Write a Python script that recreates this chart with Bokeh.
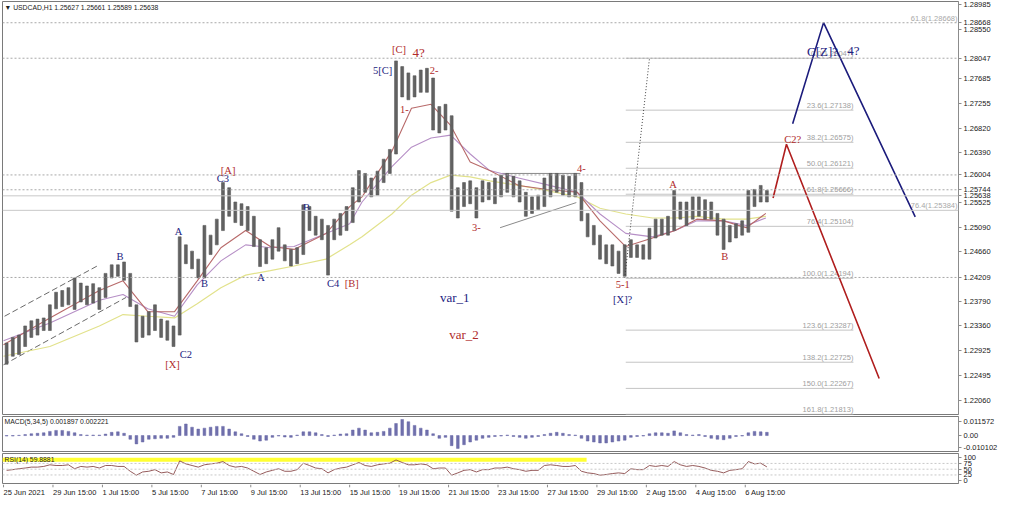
from bokeh.plotting import figure
from bokeh.layouts import column
from bokeh.models import Range1d, FixedTicker, Span, PrintfTickFormatter
from bokeh.core.properties import value
from bokeh.embed import file_html
from bokeh.resources import INLINE

# ---------------- data ----------------
header_text = "\u25bc USDCAD,H1  1.25627 1.25661 1.25589 1.25638"
macd_title = "MACD(5,34,5) 0.001897 0.002221"
rsi_title = "RSI(14) 59.8881"

date_labels = ["25 Jun 2021", "29 Jun 15:00", "1 Jul 15:00", "5 Jul 15:00", "7 Jul 15:00",
               "9 Jul 15:00", "13 Jul 15:00", "15 Jul 15:00", "19 Jul 15:00", "21 Jul 15:00",
               "23 Jul 15:00", "27 Jul 15:00", "29 Jul 15:00", "2 Aug 15:00", "4 Aug 15:00",
               "6 Aug 15:00"]
date_bars = [0, 48, 96, 144, 192, 240, 288, 336, 384, 432, 480, 528, 576, 624, 672, 720]

# price scale: regular ticks plus the marked level values shown on the scale
price_ticks = [1.28985, 1.28668, 1.28550, 1.28047, 1.27685, 1.27255, 1.26820, 1.26390,
               1.26004, 1.25744, 1.25638, 1.25525, 1.25090, 1.24660, 1.24209, 1.23790,
               1.23360, 1.22925, 1.22495, 1.22060]

# 6-hour groups of H1 bars (high / low)
price_high = [
    1.2306, 1.2316, 1.2320, 1.2336, 1.2345, 1.2348, 1.2350, 1.2373, 1.2395, 1.2398,
    1.2403, 1.2420, 1.2411, 1.2406, 1.2410, 1.2403, 1.2428, 1.2443, 1.2443, 1.2448,
    1.2428, 1.2373, 1.2353, 1.2361, 1.2373, 1.2348, 1.2345, 1.2336, 1.2492, 1.2478,
    1.2467, 1.2453, 1.2512, 1.2495, 1.2523, 1.2587, 1.2578, 1.2553, 1.2550, 1.2545,
    1.2528, 1.2487, 1.2473, 1.2487, 1.2508, 1.2478, 1.2470, 1.2473, 1.2548, 1.2545,
    1.2528, 1.2523, 1.2512, 1.2523, 1.2533, 1.2545, 1.2578, 1.2608, 1.2603, 1.2595,
    1.2607, 1.2628, 1.2645, 1.2800, 1.2790, 1.2779, 1.2774, 1.2784, 1.2787, 1.2770,
    1.2720, 1.2724, 1.2704, 1.2578, 1.2587, 1.2590, 1.2578, 1.2590, 1.2587, 1.2595,
    1.2600, 1.2603, 1.2598, 1.2590, 1.2570, 1.2562, 1.2565, 1.2595, 1.2603, 1.2603,
    1.2600, 1.2598, 1.2603, 1.2587, 1.2533, 1.2512, 1.2495, 1.2478, 1.2478, 1.2467,
    1.2478, 1.2487, 1.2478, 1.2478, 1.2507, 1.2523, 1.2523, 1.2528, 1.2573, 1.2553,
    1.2553, 1.2562, 1.2562, 1.2557, 1.2553, 1.2533, 1.2523, 1.2512, 1.2515, 1.2520,
    1.2573, 1.2575, 1.2582, 1.2573]
price_low = [
    1.2269, 1.2283, 1.2286, 1.2300, 1.2316, 1.2320, 1.2328, 1.2328, 1.2366, 1.2370,
    1.2373, 1.2365, 1.2378, 1.2373, 1.2376, 1.2365, 1.2386, 1.2420, 1.2423, 1.2416,
    1.2370, 1.2308, 1.2316, 1.2320, 1.2328, 1.2316, 1.2311, 1.2300, 1.2320, 1.2445,
    1.2436, 1.2420, 1.2420, 1.2461, 1.2478, 1.2503, 1.2528, 1.2517, 1.2512, 1.2503,
    1.2475, 1.2440, 1.2445, 1.2453, 1.2467, 1.2450, 1.2441, 1.2445, 1.2461, 1.2503,
    1.2495, 1.2487, 1.2425, 1.2487, 1.2495, 1.2503, 1.2517, 1.2553, 1.2570, 1.2562,
    1.2565, 1.2587, 1.2603, 1.2637, 1.2737, 1.2732, 1.2737, 1.2745, 1.2745, 1.2679,
    1.2674, 1.2679, 1.2537, 1.2525, 1.2545, 1.2550, 1.2525, 1.2553, 1.2557, 1.2550,
    1.2562, 1.2570, 1.2562, 1.2553, 1.2528, 1.2533, 1.2540, 1.2545, 1.2562, 1.2570,
    1.2565, 1.2562, 1.2562, 1.2520, 1.2492, 1.2478, 1.2453, 1.2445, 1.2441, 1.2428,
    1.2423, 1.2456, 1.2456, 1.2453, 1.2453, 1.2490, 1.2495, 1.2495, 1.2503, 1.2523,
    1.2512, 1.2523, 1.2528, 1.2523, 1.2523, 1.2495, 1.2470, 1.2483, 1.2490, 1.2495,
    1.2500, 1.2545, 1.2553, 1.2553]

macd_hist = [
    -0.0004, -0.0004, 0.0002, 0.0008, 0.0015, 0.0019, 0.0023, 0.0035, 0.0043, 0.0043,
    0.0035, 0.0023, 0.0008, 0.0004, 0.0004, 0.0004, 0.0012, 0.0027, 0.0031, 0.0019,
    -0.0031, -0.0070, -0.0054, -0.0031, -0.0027, -0.0023, -0.0023, -0.0015, 0.0077, 0.0097,
    0.0070, 0.0054, 0.0062, 0.0070, 0.0077, 0.0077, 0.0054, 0.0031, 0.0015, -0.0008,
    -0.0031, -0.0046, -0.0039, -0.0015, -0.0004, -0.0012, -0.0015, 0.0004, 0.0031, 0.0031,
    0.0023, 0.0008, -0.0008, 0.0004, 0.0012, 0.0015, 0.0046, 0.0062, 0.0046, 0.0023,
    0.0027, 0.0035, 0.0062, 0.0101, 0.0135, 0.0116, 0.0085, 0.0062, 0.0046, 0.0015,
    -0.0023, -0.0015, -0.0085, -0.0108, -0.0077, -0.0054, -0.0039, -0.0023, -0.0015, -0.0008,
    -0.0004, 0.0004, -0.0008, -0.0015, -0.0023, -0.0015, -0.0008, 0.0008, 0.0019, 0.0027,
    0.0019, 0.0008, 0.0004, -0.0023, -0.0046, -0.0054, -0.0062, -0.0062, -0.0054, -0.0046,
    -0.0039, -0.0015, -0.0008, -0.0004, 0.0015, 0.0023, 0.0023, 0.0019, 0.0039, 0.0023,
    0.0008, 0.0004, 0.0008, -0.0008, -0.0023, -0.0031, -0.0035, -0.0023, -0.0008, -0.0004,
    0.0023, 0.0035, 0.0031, 0.0027]
macd_ticks = [0.011572, 0.0, -0.010102]

rsi_vals = [
    45, 48, 52, 55, 59, 59, 62, 69, 66, 66,
    69, 52, 62, 59, 62, 55, 66, 66, 62, 62,
    41, 24, 38, 41, 48, 34, 38, 27, 86, 73,
    66, 59, 69, 73, 76, 83, 66, 59, 62, 55,
    41, 27, 38, 45, 52, 41, 41, 48, 76, 66,
    55, 52, 34, 48, 55, 59, 69, 79, 66, 62,
    69, 73, 76, 90, 79, 69, 69, 73, 69, 52,
    55, 55, 24, 34, 45, 48, 38, 48, 48, 55,
    55, 59, 52, 48, 41, 45, 45, 66, 69, 66,
    62, 62, 66, 41, 34, 31, 24, 27, 31, 34,
    31, 52, 48, 48, 66, 62, 66, 62, 83, 69,
    62, 66, 62, 55, 45, 41, 34, 45, 48, 52,
    83, 73, 76, 60]
rsi_ticks = [100, 75, 50, 25, 0]
rsi_levels = [75, 50, 25]
rsi_band_end = 566
rsi_band_low = 82
rsi_band_high = 100

# moving averages read at sample bars
ma_x = [0, 45, 93, 116, 140, 166, 188, 211, 235, 259, 282, 313, 336, 348, 377, 396,
        415, 434, 453, 472, 500, 528, 557, 579, 604, 630, 652, 673, 699, 721, 740]
ma_slow = [1.2283, 1.2300, 1.2336, 1.2356, 1.2353, 1.2350, 1.2375, 1.2403, 1.2425, 1.2433,
           1.2441, 1.2453, 1.2478, 1.2492, 1.2532, 1.2565, 1.2587, 1.2600, 1.2597, 1.2590,
           1.2582, 1.2573, 1.2562, 1.2542, 1.2532, 1.2525, 1.2525, 1.2528, 1.2523, 1.2523, 1.2528]
ma_mid = [1.2310, 1.2341, 1.2381, 1.2391, 1.2366, 1.2353, 1.2408, 1.2450, 1.2478, 1.2473,
          1.2475, 1.2498, 1.2515, 1.2553, 1.2615, 1.2649, 1.2665, 1.2670, 1.2637, 1.2608,
          1.2595, 1.2583, 1.2570, 1.2532, 1.2498, 1.2492, 1.2503, 1.2520, 1.2520, 1.2512, 1.2525]
ma_fast = [1.2303, 1.2350, 1.2398, 1.2415, 1.2361, 1.2361, 1.2415, 1.2473, 1.2503, 1.2475,
           1.2470, 1.2498, 1.2545, 1.2562, 1.2642, 1.2717, 1.2724, 1.2687, 1.2623, 1.2608,
           1.2582, 1.2575, 1.2570, 1.2520, 1.2475, 1.2490, 1.2503, 1.2523, 1.2520, 1.2508, 1.2533]

# horizontal levels
dotted_levels = [1.28668, 1.28047, 1.26004, 1.25744, 1.24209]
solid_levels = [1.25638, 1.25384]

fib_start = 604
fib_end = 825
fib_levels = [1.28047, 1.27138, 1.26575, 1.26121, 1.25666, 1.25104, 1.24194,
              1.23287, 1.22725, 1.22267, 1.21813]
fib_texts = ["0.0(1.28047)", "23.6(1.27138)", "38.2(1.26575)", "50.0(1.26121)",
             "61.8(1.25666)", "76.4(1.25104)", "100.0(1.24194)", "123.6(1.23287)",
             "138.2(1.22725)", "150.0(1.22267)", "161.8(1.21813)"]
fib2_end = 926
fib2_levels = [1.28668, 1.25384]
fib2_texts = ["61.8(1.28668)", "76.4(1.25384)"]

# projections and trend lines
blue_proj_x = [766, 796, 885]
blue_proj_y = [1.2690, 1.2867, 1.2527]
red_proj_x = [747, 760, 850]
red_proj_y = [1.2560, 1.2654, 1.2244]
dot_x = [603, 627]
dot_y = [1.2420, 1.2804]
chan_x0 = [1, 0]
chan_x1 = [93, 119]
chan_y0 = [1.2353, 1.2268]
chan_y1 = [1.2443, 1.2386]
tri_x0 = [484, 482]
tri_x1 = [560, 556]
tri_y0 = [1.2603, 1.2508]
tri_y1 = [1.2603, 1.2552]

# wave labels
blue_labels = ["B", "C3", "A", "B", "C2", "A", "B", "C4", "5[C]", "[X]?"]
blue_x = [113, 213, 170, 195, 177, 250, 294, 320, 368, 601]
blue_y = [1.2457, 1.2595, 1.2502, 1.2410, 1.2286, 1.2420, 1.2543, 1.2410, 1.2784, 1.2383]
blue_big_labels = ["var_1", "C[Z]?", "4?"]
blue_big_x = [438, 795, 825]
blue_big_y = [1.2385, 1.2817, 1.2819]
red_labels = ["[A]", "[X]", "[B]", "[C]", "2-", "1-", "3-", "4-", "5-1", "A", "B", "C2?"]
red_x = [218, 164, 338, 384, 418, 389, 459, 561, 601, 650, 700, 766]
red_y = [1.2608, 1.2268, 1.2410, 1.2820, 1.2784, 1.2715, 1.2508, 1.2612, 1.2408, 1.2583, 1.2458, 1.2662]
red_big_labels = ["4?", "var_2"]
red_big_x = [403, 447]
red_big_y = [1.2815, 1.2321]

# ---------------- styling ----------------
NAVY = "#222280"
RED = "#b02a2a"
AXIS = "#8c8c8c"
FRAME_W = 956
bar_x = [6 * k + 3 for k in range(len(price_high))]
x_rng = Range1d(-1, 927)
SANS = "Liberation Sans"
SERIF = "Liberation Serif"


def base_fig(frame_h, y0, y1, top, bottom):
    p = figure(frame_width=FRAME_W, frame_height=frame_h, x_range=x_rng,
               y_range=Range1d(y0, y1), output_backend="svg", toolbar_location=None,
               x_axis_location=None, y_axis_location="right",
               min_border_left=2, min_border_right=40, min_border_top=top,
               min_border_bottom=bottom, background_fill_color="white",
               border_fill_color="white", outline_line_color="#7a7a7a")
    p.grid.visible = False
    ax = p.yaxis[0]
    ax.axis_line_color = AXIS
    ax.major_tick_line_color = AXIS
    ax.major_tick_out = 3
    ax.major_tick_in = 0
    ax.minor_tick_line_color = None
    ax.major_label_text_font = SANS
    ax.major_label_text_font_size = "7.5px"
    ax.major_label_text_color = "#202020"
    ax.major_label_standoff = 2
    return p


# ---------------- main price panel ----------------
p1 = base_fig(413, 1.2181, 1.2904, 1, 1)
p1.yaxis[0].ticker = FixedTicker(ticks=price_ticks)
p1.yaxis[0].formatter = PrintfTickFormatter(format="%.5f")

for lv in dotted_levels:
    p1.add_layout(Span(location=lv, dimension="width", line_color="#a8a8a8",
                       line_dash="2 2", line_width=1))
for lv in solid_levels:
    p1.add_layout(Span(location=lv, dimension="width", line_color="#c8c8c8", line_width=1))

p1.segment(x0=[fib_start] * len(fib_levels), x1=[fib_end] * len(fib_levels),
           y0=fib_levels, y1=fib_levels, line_color="#c4c4c4", line_width=1)
p1.text(x=[fib_end] * len(fib_levels), y=fib_levels, text=fib_texts,
        text_font=value(SANS), text_font_size="7.5px", text_color="#a0a0a0",
        text_align="right", text_baseline="bottom")
p1.text(x=[fib2_end] * len(fib2_levels), y=fib2_levels, text=fib2_texts,
        text_font=value(SANS), text_font_size="7.5px", text_color="#a8a8a8",
        text_align="right", text_baseline="bottom")

p1.segment(x0=chan_x0, x1=chan_x1, y0=chan_y0, y1=chan_y1, line_color="#6a6a6a",
           line_dash="6 3", line_width=1)
p1.segment(x0=tri_x0, x1=tri_x1, y0=tri_y0, y1=tri_y1, line_color="#8a8a8a", line_width=1)

p1.line(ma_x, ma_slow, line_color="#e2e28c", line_width=1.2)
p1.line(ma_x, ma_mid, line_color="#b68fc6", line_width=1.1)
p1.line(ma_x, ma_fast, line_color="#b86a6a", line_width=1.1)

p1.vbar(x=bar_x, bottom=price_low, top=price_high, width=2.8, fill_color="#626262",
        line_color="#585858", line_width=0.6)

p1.line(dot_x, dot_y, line_color="#404040", line_dash="1 2", line_width=1)
p1.line(blue_proj_x, blue_proj_y, line_color="#1c1c7c", line_width=1.6)
p1.line(red_proj_x, red_proj_y, line_color="#b01e1e", line_width=1.6)

p1.text(x=blue_x, y=blue_y, text=blue_labels, text_font=value(SERIF),
        text_font_size="10.5px", text_color=NAVY, text_align="center", text_baseline="middle")
p1.text(x=blue_big_x, y=blue_big_y, text=blue_big_labels, text_font=value(SERIF),
        text_font_size="13px", text_color=NAVY, text_align="center", text_baseline="middle")
p1.text(x=red_x, y=red_y, text=red_labels, text_font=value(SERIF),
        text_font_size="10.5px", text_color=RED, text_align="center", text_baseline="middle")
p1.text(x=red_big_x, y=red_big_y, text=red_big_labels, text_font=value(SERIF),
        text_font_size="13px", text_color=RED, text_align="center", text_baseline="middle")

p1.text(x=[1], y=[1.2893], text=[header_text], text_font=value(SANS),
        text_font_size="6.8px", text_color="#202020", text_align="left", text_baseline="middle")

# ---------------- MACD panel ----------------
p2 = base_fig(35, -0.0134, 0.0160, 1, 1)
p2.yaxis[0].ticker = FixedTicker(ticks=macd_ticks)
p2.yaxis[0].formatter = PrintfTickFormatter(format="%.6f")
p2.yaxis[0].major_label_overrides = {0: "0.00"}
p2.vbar(x=bar_x, bottom=0, top=macd_hist, width=2.6, fill_color="#7070ac",
        line_color="#6666a6", line_width=0.5)
p2.text(x=[1], y=[0.0116], text=[macd_title], text_font=value(SANS),
        text_font_size="6.8px", text_color="#202020", text_align="left", text_baseline="middle")

# ---------------- RSI panel ----------------
p3 = base_fig(30, -12, 118, 1, 1)
p3.yaxis[0].ticker = FixedTicker(ticks=rsi_ticks)
p3.quad(left=[-1], right=[rsi_band_end], bottom=[rsi_band_low], top=[rsi_band_high],
        fill_color="#ffff33", line_color=None)
for lv in rsi_levels:
    p3.add_layout(Span(location=lv, dimension="width", line_color="#c8c8c8",
                       line_dash="2 2", line_width=1))
p3.line(bar_x, rsi_vals, line_color="#8a4a4a", line_width=0.9)
p3.text(x=[1], y=[92], text=[rsi_title], text_font=value(SANS),
        text_font_size="6.8px", text_color="#202020", text_align="left", text_baseline="middle")

# ---------------- date strip ----------------
p4 = figure(frame_width=FRAME_W, frame_height=14, x_range=x_rng, y_range=Range1d(0, 1),
            output_backend="svg", toolbar_location=None, x_axis_location=None,
            y_axis_location=None, min_border_left=2, min_border_right=40,
            min_border_top=0, min_border_bottom=0, outline_line_color=None)
p4.grid.visible = False
p4.segment(x0=date_bars, x1=date_bars, y0=[1] * len(date_bars), y1=[0.8] * len(date_bars),
           line_color=AXIS, line_width=1)
p4.text(x=date_bars, y=[0.45] * len(date_bars), text=date_labels, text_font=value(SANS),
        text_font_size="7.5px", text_color="#202020", text_align="left", text_baseline="middle")

layout = column(p1, p2, p3, p4, spacing=0)
open("out.html", "w").write(file_html(layout, INLINE))
